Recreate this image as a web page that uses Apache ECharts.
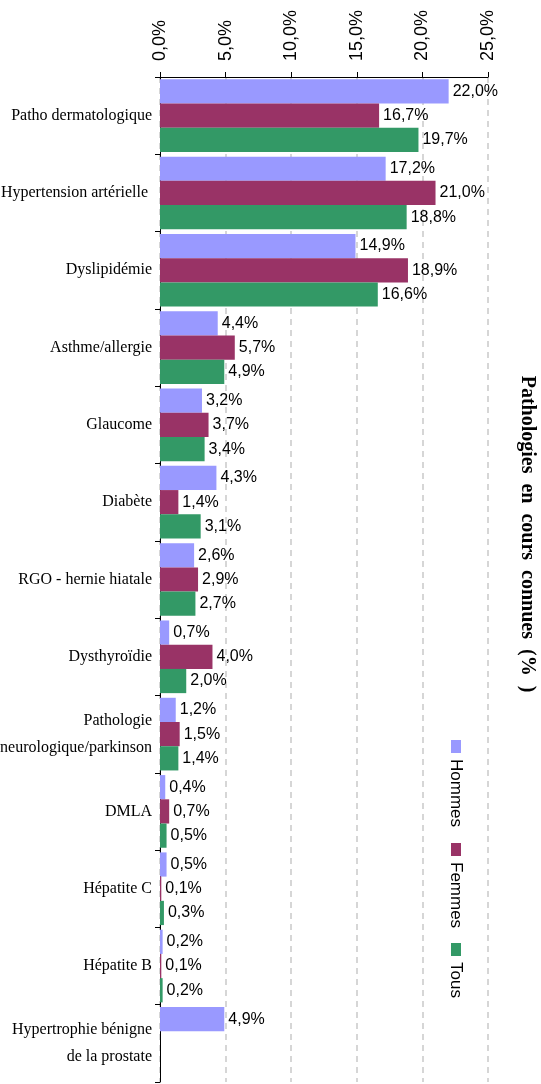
<!DOCTYPE html>
<html>
<head>
<meta charset="utf-8">
<script src="https://cdn.jsdelivr.net/npm/echarts@6/dist/echarts.min.js"></script>
<style>
  html, body { margin: 0; padding: 0; background: #fff; }
  #chart { width: 541px; height: 1084px; }
</style>
</head>
<body>
<div id="chart"></div>
<script>
// catégories (haut -> bas)
const categories = [
  'Patho dermatologique',
  'Hypertension artérielle ',
  'Dyslipidémie',
  'Asthme/allergie',
  'Glaucome',
  'Diabète',
  'RGO - hernie hiatale',
  'Dysthyroïdie',
  'Pathologie\nneurologique/parkinson',
  'DMLA',
  'Hépatite C',
  'Hépatite B',
  'Hypertrophie bénigne\nde la prostate'
];
const seriesNames = ['Hommes', 'Femmes', 'Tous'];
const hommes = [22.0, 17.2, 14.9, 4.4, 3.2, 4.3, 2.6, 0.7, 1.2, 0.4, 0.5, 0.2, 4.9];
const femmes = [16.7, 21.0, 18.9, 5.7, 3.7, 1.4, 2.9, 4.0, 1.5, 0.7, 0.1, 0.1, null];
const tous = [19.7, 18.8, 16.6, 4.9, 3.4, 3.1, 2.7, 2.0, 1.4, 0.5, 0.3, 0.2, null];
const colors = ['#9999ff', '#993366', '#339966'];
const title = 'Pathologies  en  cours  connues  (%  )';

const fmt = v => v.toFixed(1).replace('.', ',') + '%';

const chart = echarts.init(document.getElementById('chart'));

function makeSeries(name, data, i) {
  return {
    name,
    type: 'bar',
    data,
    barGap: '0%',
    barCategoryGap: '6%',
    itemStyle: { color: colors[i] },
    label: {
      show: true,
      position: 'right',
      distance: 4,
      color: '#000',
      fontFamily: 'Liberation Sans',
      fontSize: 16,
      formatter: p => (p.value == null ? '' : fmt(p.value))
    }
  };
}

// légende verticale (texte tourné)
const legendItems = [];
const offsets = [0, 103, 203];
seriesNames.forEach((n, i) => {
  legendItems.push({
    type: 'rect',
    shape: { x: offsets[i], y: -5, width: 13, height: 10 },
    style: { fill: colors[i] }
  });
  legendItems.push({
    type: 'text',
    x: offsets[i] + 19,
    y: 0,
    style: {
      text: n,
      fill: '#000',
      font: '17px "Liberation Sans"',
      verticalAlign: 'middle',
      textAlign: 'left'
    }
  });
});

chart.setOption({
  animation: false,
  grid: {
    left: 160, top: 77, right: 53, bottom: 2,
    containLabel: false,
    outerBoundsMode: 'none'
  },
  xAxis: {
    type: 'value',
    position: 'top',
    min: 0,
    max: 25,
    interval: 5,
    axisLine: { show: true, lineStyle: { color: '#000', width: 1 } },
    axisTick: { show: true, length: 5, lineStyle: { color: '#000' } },
    axisLabel: {
      rotate: -90,
      margin: 16,
      color: '#000',
      fontFamily: 'Liberation Sans',
      fontSize: 18,
      formatter: v => fmt(v)
    },
    splitLine: {
      show: true,
      lineStyle: { color: '#d6d6d6', type: [6, 5], width: 2 }
    }
  },
  yAxis: {
    type: 'category',
    inverse: true,
    data: categories,
    axisLine: { show: true, lineStyle: { color: '#000', width: 1 } },
    axisTick: { show: true, length: 5, alignWithLabel: false, lineStyle: { color: '#000' } },
    axisLabel: {
      margin: 8,
      color: '#000',
      fontFamily: 'Liberation Serif',
      fontSize: 16,
      lineHeight: 27,
      align: 'right'
    }
  },
  series: [
    makeSeries(seriesNames[0], hommes, 0),
    makeSeries(seriesNames[1], femmes, 1),
    makeSeries(seriesNames[2], tous, 2)
  ],
  graphic: [
    {
      type: 'text',
      x: 527,
      y: 534,
      rotation: -Math.PI / 2,
      style: {
        text: title,
        fill: '#000',
        font: 'bold 20px "Liberation Serif"',
        textAlign: 'center',
        verticalAlign: 'middle'
      }
    },
    {
      type: 'group',
      x: 456,
      y: 740,
      rotation: -Math.PI / 2,
      children: legendItems
    }
  ]
});
</script>
</body>
</html>
